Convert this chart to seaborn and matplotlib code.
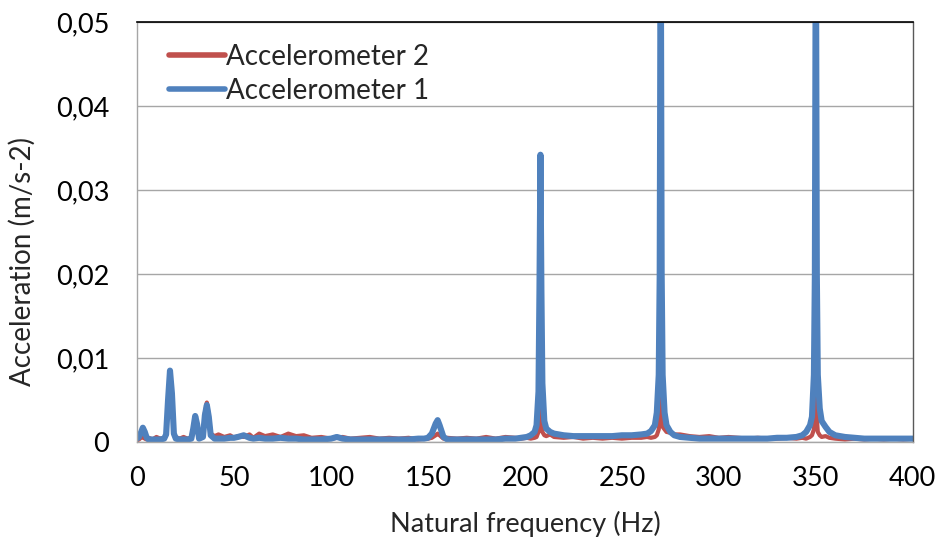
import matplotlib
matplotlib.use("Agg")
import matplotlib.pyplot as plt
import seaborn as sns
import pandas as pd
from matplotlib.ticker import FuncFormatter, MultipleLocator

# Frequency axis of the spectrum (Hz)
freq = [
    0, 1, 2, 3, 4, 5, 6, 8, 10, 12,
    14, 15, 16, 17, 18, 19, 20, 22, 24, 26,
    28, 29, 30, 31, 32, 34, 35, 36, 37, 38,
    40,
    42, 45, 48, 50, 52, 55, 58, 60, 63, 66,
    70, 74, 78, 82, 86, 90, 95, 100, 103, 106,
    110, 115, 120, 125, 130, 135, 140, 145, 148,
    150, 152, 154, 155, 156, 158, 160, 165, 170, 175,
    180, 185, 190, 195, 198,
    201, 203, 205, 206, 207, 207.5, 208, 208.5, 209, 210,
    211, 213, 215,
    220, 225, 230, 235, 240, 245, 250, 255, 260, 263,
    265, 267, 268, 269, 269.5, 270, 270.5, 271, 272, 273,
    275, 277,
    280, 285, 290, 295, 300, 305, 310, 315, 320, 325,
    330, 335, 340,
    343, 345, 347, 348, 349, 349.5, 350, 350.5, 351, 352,
    353, 355, 357,
    360, 365, 370, 375, 380, 385, 390, 395, 400,
]

# Accelerometer 1 amplitude (m/s-2)
accel1 = [
    0.0004, 0.0006, 0.0011, 0.0017, 0.0012, 0.0005, 0.0003, 0.0003, 0.0003, 0.0003,
    0.0004, 0.0009, 0.0050, 0.0085, 0.0058, 0.0010, 0.0004, 0.0003, 0.0003, 0.0003,
    0.0004, 0.0016, 0.0031, 0.0021, 0.0004, 0.0006, 0.0032, 0.0044, 0.0030, 0.0008,
    0.0004,
    0.0004, 0.0004, 0.0005, 0.0005, 0.0006, 0.0008, 0.0005, 0.0004, 0.0005, 0.0004,
    0.0004, 0.0005, 0.0004, 0.0004, 0.0003, 0.0003, 0.0003, 0.0004, 0.0006, 0.0004,
    0.0003, 0.0003, 0.0003, 0.0003, 0.0003, 0.0003, 0.0003, 0.0004, 0.0004,
    0.0005, 0.0010, 0.0022, 0.0026, 0.0020, 0.0006, 0.0003, 0.0003, 0.0003, 0.0003,
    0.0003, 0.0003, 0.0004, 0.0004, 0.0005,
    0.0006, 0.0008, 0.0012, 0.0020, 0.0060, 0.0180, 0.0342, 0.0180, 0.0070, 0.0025,
    0.0016, 0.0012, 0.0010,
    0.0008, 0.0007, 0.0007, 0.0007, 0.0007, 0.0007, 0.0008, 0.0008, 0.0009, 0.0010,
    0.0013, 0.0020, 0.0035, 0.0080, 0.0200, 0.0650, 0.0200, 0.0080, 0.0035, 0.0020,
    0.0012, 0.0008,
    0.0006, 0.0005, 0.0004, 0.0004, 0.0004, 0.0004, 0.0004, 0.0004, 0.0004, 0.0004,
    0.0005, 0.0005, 0.0006,
    0.0008, 0.0012, 0.0020, 0.0030, 0.0080, 0.0200, 0.0650, 0.0200, 0.0080, 0.0040,
    0.0025, 0.0018, 0.0012,
    0.0008, 0.0006, 0.0005, 0.0004, 0.0004, 0.0004, 0.0004, 0.0004, 0.0004,
]

# Accelerometer 2 amplitude (m/s-2)
accel2 = [
    0.0002, 0.0003, 0.0005, 0.0006, 0.0004, 0.0003, 0.0005, 0.0003, 0.0006, 0.0004,
    0.0005, 0.0008, 0.0045, 0.0080, 0.0050, 0.0009, 0.0006, 0.0004, 0.0006, 0.0004,
    0.0005, 0.0012, 0.0026, 0.0018, 0.0005, 0.0008, 0.0035, 0.0047, 0.0032, 0.0010,
    0.0007,
    0.0009, 0.0006, 0.0008, 0.0005, 0.0007, 0.0006, 0.0009, 0.0005, 0.0010, 0.0007,
    0.0009, 0.0006, 0.0010, 0.0007, 0.0008, 0.0005, 0.0006, 0.0004, 0.0005, 0.0006,
    0.0004, 0.0005, 0.0006, 0.0004, 0.0005, 0.0004, 0.0005, 0.0003, 0.0004,
    0.0004, 0.0005, 0.0008, 0.0010, 0.0008, 0.0004, 0.0005, 0.0004, 0.0005, 0.0004,
    0.0006, 0.0004, 0.0006, 0.0005, 0.0004,
    0.0005, 0.0004, 0.0005, 0.0006, 0.0012, 0.0025, 0.0050, 0.0025, 0.0012, 0.0008,
    0.0007, 0.0009, 0.0006,
    0.0005, 0.0006, 0.0004, 0.0005, 0.0004, 0.0005, 0.0004, 0.0005, 0.0005, 0.0006,
    0.0005, 0.0006, 0.0008, 0.0015, 0.0030, 0.0055, 0.0030, 0.0018, 0.0015, 0.0012,
    0.0011, 0.0009,
    0.0009, 0.0007, 0.0006, 0.0007, 0.0005, 0.0006, 0.0005, 0.0004, 0.0005, 0.0004,
    0.0004, 0.0005, 0.0004,
    0.0005, 0.0004, 0.0006, 0.0008, 0.0015, 0.0030, 0.0060, 0.0030, 0.0012, 0.0008,
    0.0006, 0.0007, 0.0005,
    0.0004, 0.0003, 0.0004, 0.0003, 0.0004, 0.0003, 0.0004, 0.0003, 0.0004,
]

series_names = ["Accelerometer 2", "Accelerometer 1"]
series_colors = ["#C0504D", "#4F81BD"]
series_widths = [3.0, 4.4]

df = pd.concat([
    pd.DataFrame({"freq": freq, "acc": accel2, "sensor": series_names[0]}),
    pd.DataFrame({"freq": freq, "acc": accel1, "sensor": series_names[1]}),
])

sns.set_style("white")
plt.rcParams["font.family"] = ["Lato", "DejaVu Sans"]

fig = plt.figure(figsize=(9.43, 5.43), dpi=100)
ax = fig.add_axes([0.1453, 0.186, 0.8227, 0.7735])

for name, color, lw in zip(series_names, series_colors, series_widths):
    sns.lineplot(data=df[df["sensor"] == name], x="freq", y="acc",
                 color=color, linewidth=lw, label=name, ax=ax,
                 sort=False, estimator=None, solid_capstyle="round")

ax.set_xlim(0, 400)
ax.set_ylim(0, 0.05)
ax.xaxis.set_major_locator(MultipleLocator(50))
ax.yaxis.set_major_locator(MultipleLocator(0.01))
ax.yaxis.set_major_formatter(FuncFormatter(
    lambda v, _: "0" if abs(v) < 1e-12 else f"{v:.2f}".replace(".", ",")))

ax.grid(axis="y", color="#A6A6A6", linewidth=1.0)
ax.grid(axis="x", visible=False)
ax.set_axisbelow(True)

for side in ("left", "bottom"):
    ax.spines[side].set_color("#A6A6A6")
    ax.spines[side].set_linewidth(1.0)
ax.spines["top"].set_color("#000000")
ax.spines["top"].set_linewidth(1.2)
ax.spines["right"].set_color("#595959")
ax.spines["right"].set_linewidth(1.0)

ax.tick_params(axis="both", length=0, labelsize=19.5, colors="#000000")
ax.tick_params(axis="y", pad=20)
ax.tick_params(axis="x", pad=17)

ax.set_xlabel("Natural frequency (Hz)", fontsize=19.5, va="center")
ax.set_ylabel("Acceleration (m/s-2)", fontsize=20, va="center")
ax.xaxis.set_label_coords(0.5, -0.195)
ax.yaxis.set_label_coords(-0.148, 0.43)

leg = ax.legend(loc="upper left", frameon=False, fontsize=20,
                handlelength=2.0, handletextpad=0.06, labelspacing=0.3,
                borderaxespad=0.0, bbox_to_anchor=(0.027, 0.975))
for line in leg.get_lines():
    line.set_linewidth(4.0)

fig.savefig("out.png", dpi=100)
